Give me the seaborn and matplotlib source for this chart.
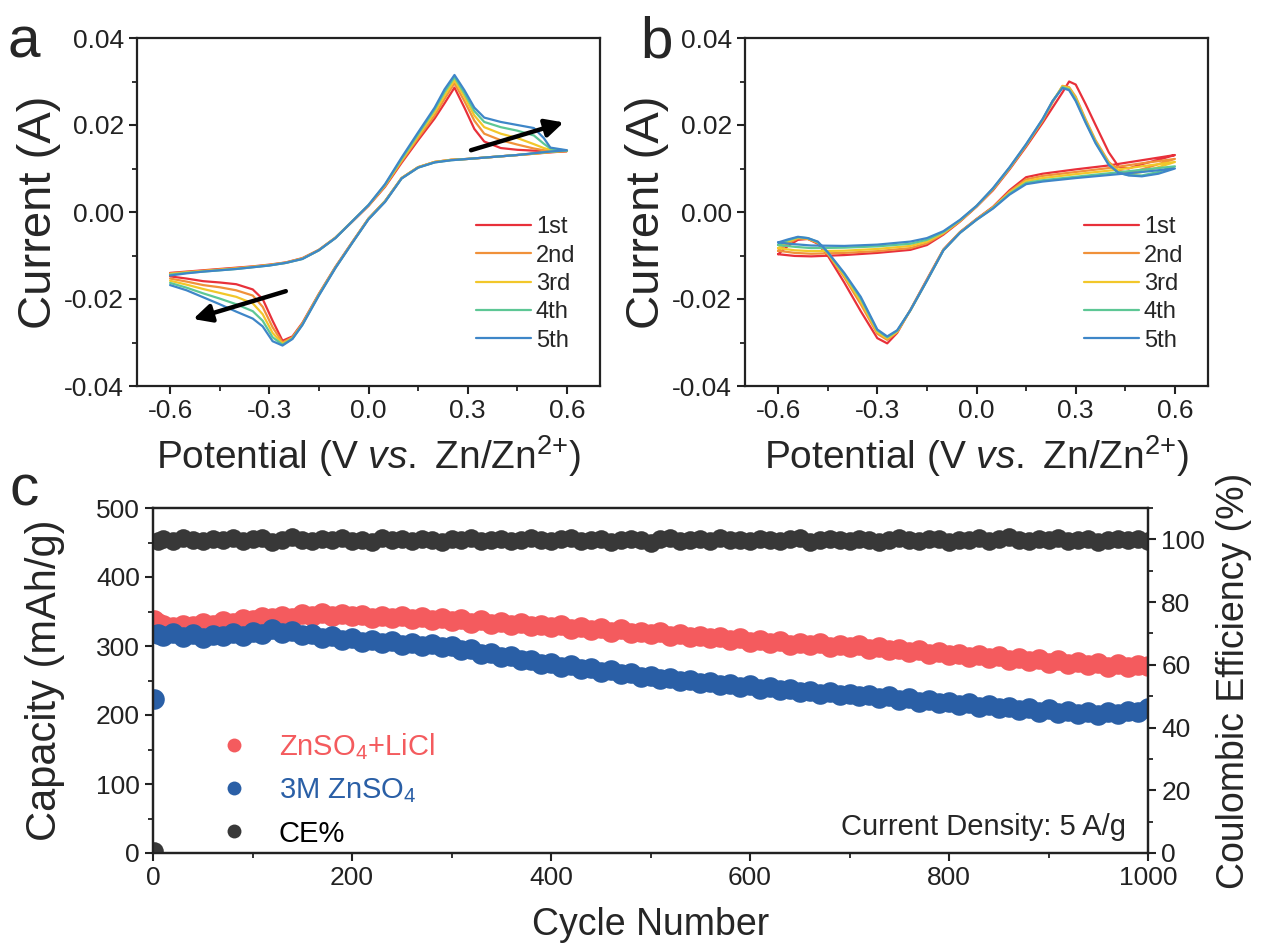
import matplotlib
matplotlib.use('Agg')
import matplotlib.pyplot as plt
from matplotlib.ticker import MultipleLocator, FormatStrFormatter
from matplotlib.lines import Line2D
import seaborn as sns
import pandas as pd

# ---------------- panel a: CV, 5 cycles ----------------
CYCLE_NAMES = ['1st', '2nd', '3rd', '4th', '5th']
CV_COLORS = ['#E8303A', '#F0913A', '#F2C72A', '#5DC795', '#3E86C8']

A_V_FWD = [-0.60, -0.55, -0.50, -0.45, -0.40, -0.35, -0.30, -0.25, -0.20, -0.15, -0.10, -0.05, 0.00,
           0.05, 0.10, 0.15, 0.20, 0.23, 0.26, 0.29, 0.32, 0.35, 0.40, 0.45, 0.50, 0.53, 0.55, 0.60]
A_V_REV = [0.55, 0.50, 0.45, 0.40, 0.35, 0.30, 0.25, 0.20, 0.15, 0.10, 0.05, 0.00, -0.05, -0.10,
           -0.15, -0.20, -0.23, -0.26, -0.29, -0.32, -0.35, -0.40, -0.45, -0.50, -0.55, -0.60]

A_FWD_1 = [-0.0140, -0.0137, -0.0134, -0.0131, -0.0128, -0.0125, -0.0121, -0.0116, -0.0106, -0.0087, -0.0059, -0.0023, 0.0014,
           0.0058, 0.0113, 0.0165, 0.0215, 0.0250, 0.0286, 0.0240, 0.0191, 0.0162, 0.0147, 0.0143, 0.0141, 0.0140, 0.0140, 0.0140]
A_FWD_2 = [-0.0141, -0.0138, -0.0135, -0.0132, -0.0129, -0.0126, -0.0122, -0.0116, -0.0107, -0.0087, -0.0059, -0.0022, 0.0015,
           0.0060, 0.0116, 0.0170, 0.0222, 0.0260, 0.0296, 0.0255, 0.0210, 0.0180, 0.0165, 0.0155, 0.0146, 0.0142, 0.0141, 0.0140]
A_FWD_3 = [-0.0143, -0.0139, -0.0136, -0.0133, -0.0130, -0.0126, -0.0122, -0.0117, -0.0107, -0.0088, -0.0059, -0.0022, 0.0015,
           0.0061, 0.0119, 0.0175, 0.0230, 0.0268, 0.0303, 0.0265, 0.0222, 0.0195, 0.0180, 0.0170, 0.0156, 0.0147, 0.0143, 0.0141]
A_FWD_4 = [-0.0144, -0.0140, -0.0137, -0.0134, -0.0131, -0.0127, -0.0123, -0.0117, -0.0108, -0.0088, -0.0060, -0.0022, 0.0016,
           0.0063, 0.0122, 0.0179, 0.0236, 0.0276, 0.0310, 0.0273, 0.0232, 0.0207, 0.0195, 0.0187, 0.0176, 0.0157, 0.0146, 0.0141]
A_FWD_5 = [-0.0146, -0.0141, -0.0137, -0.0134, -0.0131, -0.0127, -0.0123, -0.0117, -0.0108, -0.0088, -0.0060, -0.0022, 0.0016,
           0.0064, 0.0125, 0.0183, 0.0240, 0.0282, 0.0315, 0.0280, 0.0240, 0.0217, 0.0207, 0.0200, 0.0193, 0.0170, 0.0148, 0.0142]

A_REV_1 = [0.0137, 0.0134, 0.0131, 0.0128, 0.0125, 0.0122, 0.0120, 0.0115, 0.0103, 0.0078, 0.0025, -0.0015, -0.0070,
           -0.0126, -0.0188, -0.0255, -0.0286, -0.0296, -0.0250, -0.0200, -0.0178, -0.0166, -0.0162, -0.0159, -0.0153, -0.0148]
A_REV_2 = [0.0138, 0.0134, 0.0131, 0.0128, 0.0125, 0.0122, 0.0120, 0.0115, 0.0103, 0.0078, 0.0025, -0.0015, -0.0071,
           -0.0127, -0.0189, -0.0257, -0.0288, -0.0300, -0.0265, -0.0218, -0.0192, -0.0180, -0.0173, -0.0168, -0.0160, -0.0153]
A_REV_3 = [0.0138, 0.0134, 0.0131, 0.0128, 0.0125, 0.0122, 0.0120, 0.0115, 0.0103, 0.0078, 0.0024, -0.0016, -0.0071,
           -0.0128, -0.0190, -0.0258, -0.0290, -0.0303, -0.0278, -0.0235, -0.0210, -0.0195, -0.0186, -0.0177, -0.0167, -0.0158]
A_REV_4 = [0.0139, 0.0135, 0.0131, 0.0128, 0.0125, 0.0122, 0.0119, 0.0114, 0.0102, 0.0077, 0.0024, -0.0016, -0.0072,
           -0.0128, -0.0191, -0.0259, -0.0291, -0.0305, -0.0288, -0.0250, -0.0228, -0.0212, -0.0199, -0.0187, -0.0174, -0.0163]
A_REV_5 = [0.0139, 0.0135, 0.0131, 0.0128, 0.0125, 0.0122, 0.0119, 0.0114, 0.0102, 0.0077, 0.0023, -0.0017, -0.0072,
           -0.0129, -0.0192, -0.0260, -0.0292, -0.0307, -0.0297, -0.0263, -0.0245, -0.0229, -0.0212, -0.0196, -0.0180, -0.0168]

# arrows in panel a: (tail, head) in data units
A_ARROW_UP = [(0.31, 0.0142), (0.59, 0.0206)]
A_ARROW_DOWN = [(-0.25, -0.0182), (-0.53, -0.0246)]

# ---------------- panel b: CV, 5 cycles ----------------
B_V_FWD = [-0.60, -0.55, -0.50, -0.40, -0.30, -0.20, -0.15, -0.10, -0.05, 0.00, 0.05, 0.10, 0.15,
           0.20, 0.23, 0.26, 0.28, 0.30, 0.33, 0.36, 0.40, 0.43, 0.46, 0.50, 0.55, 0.60]
B_V_REV = [0.50, 0.40, 0.30, 0.20, 0.15, 0.10, 0.05, 0.00, -0.05, -0.10, -0.15, -0.20, -0.24,
           -0.27, -0.30, -0.35, -0.40, -0.45, -0.48, -0.51, -0.54, -0.57, -0.60]

B_FWD_1 = [-0.0097, -0.0101, -0.0102, -0.0099, -0.0094, -0.0087, -0.0076, -0.0052, -0.0022, 0.0012, 0.0050, 0.0098, 0.0150,
           0.0205, 0.0240, 0.0275, 0.0300, 0.0293, 0.0248, 0.0200, 0.0137, 0.0104, 0.0100, 0.0110, 0.0120, 0.0131]
B_FWD_2 = [-0.0089, -0.0094, -0.0096, -0.0094, -0.0090, -0.0083, -0.0072, -0.0050, -0.0021, 0.0013, 0.0052, 0.0100, 0.0153,
           0.0210, 0.0252, 0.0290, 0.0287, 0.0265, 0.0213, 0.0165, 0.0115, 0.0095, 0.0090, 0.0098, 0.0110, 0.0122]
B_FWD_3 = [-0.0083, -0.0088, -0.0090, -0.0089, -0.0085, -0.0078, -0.0068, -0.0048, -0.0020, 0.0013, 0.0053, 0.0101, 0.0154,
           0.0212, 0.0254, 0.0289, 0.0285, 0.0262, 0.0210, 0.0162, 0.0112, 0.0092, 0.0087, 0.0092, 0.0103, 0.0115]
B_FWD_4 = [-0.0076, -0.0080, -0.0083, -0.0082, -0.0079, -0.0073, -0.0064, -0.0046, -0.0019, 0.0014, 0.0054, 0.0102, 0.0155,
           0.0213, 0.0255, 0.0287, 0.0282, 0.0258, 0.0207, 0.0160, 0.0110, 0.0090, 0.0085, 0.0084, 0.0092, 0.0105]
B_FWD_5 = [-0.0070, -0.0074, -0.0077, -0.0078, -0.0075, -0.0068, -0.0060, -0.0044, -0.0018, 0.0014, 0.0055, 0.0103, 0.0156,
           0.0214, 0.0255, 0.0285, 0.0280, 0.0255, 0.0205, 0.0158, 0.0108, 0.0090, 0.0084, 0.0082, 0.0088, 0.0100]

B_REV_1 = [0.0119, 0.0107, 0.0098, 0.0088, 0.0080, 0.0050, 0.0012, -0.0016, -0.0046, -0.0086, -0.0155, -0.0225,
           -0.0278, -0.0302, -0.0290, -0.0228, -0.0162, -0.0100, -0.0073, -0.0062, -0.0064, -0.0078, -0.0097]
B_REV_2 = [0.0112, 0.0101, 0.0092, 0.0083, 0.0075, 0.0047, 0.0011, -0.0017, -0.0047, -0.0087, -0.0157, -0.0226,
           -0.0276, -0.0294, -0.0280, -0.0212, -0.0150, -0.0096, -0.0071, -0.0062, -0.0061, -0.0072, -0.0089]
B_REV_3 = [0.0105, 0.0095, 0.0087, 0.0078, 0.0071, 0.0044, 0.0010, -0.0017, -0.0047, -0.0087, -0.0157, -0.0226,
           -0.0275, -0.0291, -0.0276, -0.0205, -0.0146, -0.0094, -0.0070, -0.0061, -0.0059, -0.0068, -0.0083]
B_REV_4 = [0.0097, 0.0089, 0.0081, 0.0073, 0.0067, 0.0042, 0.0009, -0.0018, -0.0048, -0.0088, -0.0158, -0.0226,
           -0.0273, -0.0288, -0.0272, -0.0199, -0.0142, -0.0093, -0.0069, -0.0060, -0.0058, -0.0065, -0.0076]
B_REV_5 = [0.0092, 0.0085, 0.0078, 0.0070, 0.0064, 0.0040, 0.0008, -0.0018, -0.0048, -0.0088, -0.0158, -0.0226,
           -0.0272, -0.0286, -0.0270, -0.0195, -0.0140, -0.0092, -0.0068, -0.0060, -0.0057, -0.0063, -0.0070]

# ---------------- panel c: cycling at 5 A/g ----------------
CYCLES = [1, 5] + list(range(10, 1001, 10))

CAP_LICL = [338, 333,
            330, 327, 331, 329, 333, 331, 336, 334, 339, 337,
            342, 340, 344, 341, 347, 344, 348, 343, 346, 343,
            345, 341, 344, 340, 343, 339, 342, 337, 340, 336,
            339, 334, 337, 332, 335, 330, 333, 329, 331, 327,
            330, 325, 328, 323, 326, 321, 324, 319, 321, 317,
            320, 315, 318, 313, 315, 311, 313, 308, 311, 306,
            309, 304, 307, 302, 305, 301, 304, 299, 302, 298,
            301, 296, 299, 294, 296, 291, 294, 289, 291, 287,
            289, 284, 287, 282, 285, 280, 283, 278, 281, 276,
            279, 274, 277, 272, 275, 270, 274, 269, 273, 271]

CAP_ZNSO4 = [223, 318,
             314, 319, 313, 317, 312, 316, 314, 319, 315, 320,
             318, 324, 319, 322, 316, 318, 312, 315, 309, 312,
             306, 309, 304, 307, 302, 305, 300, 303, 298, 300,
             294, 295, 289, 290, 284, 285, 279, 280, 274, 276,
             270, 272, 266, 268, 262, 265, 259, 261, 255, 257,
             252, 254, 249, 251, 246, 248, 243, 245, 240, 243,
             238, 240, 236, 238, 233, 235, 231, 234, 229, 231,
             227, 229, 224, 227, 222, 224, 219, 222, 217, 219,
             214, 217, 212, 214, 210, 212, 207, 210, 205, 208,
             203, 206, 201, 204, 200, 204, 201, 206, 204, 210]

CE = [0.5, 99.5,
      100.1, 99.6, 100.3, 99.8, 99.4, 100.2, 99.7, 100.5, 99.6, 100.0,
      100.3, 99.3, 99.9, 100.6, 99.7, 99.5, 100.1, 99.8, 100.4, 99.6,
      99.9, 99.2, 100.3, 99.7, 100.0, 99.5, 100.2, 99.8, 99.0, 100.1,
      99.7, 100.4, 99.6, 99.9, 100.2, 99.4, 99.8, 100.3, 99.7, 99.5,
      100.0, 100.5, 99.6, 99.9, 100.1, 99.3, 99.8, 100.2, 99.7, 98.9,
      100.0, 100.3, 99.6, 99.8, 100.1, 99.5, 100.4, 99.7, 99.9, 99.4,
      100.2, 99.8, 99.6, 100.0, 100.3, 99.1, 99.7, 100.1, 99.8, 99.5,
      100.2, 99.9, 99.3, 99.7, 100.4, 99.8, 99.6, 100.0, 100.2, 99.2,
      99.9, 99.7, 100.3, 99.5, 100.0, 100.6, 99.7, 99.4, 100.1, 99.8,
      100.3, 99.6, 99.9, 100.2, 99.3, 99.8, 100.1, 99.7, 100.0, 99.6]

SERIES_NAMES = [r'ZnSO$_4$+LiCl', r'3M ZnSO$_4$', 'CE%']
RED, BLUE, GREY = '#F45B5E', '#2A5FA6', '#383838'

# ---------------- style ----------------
sns.set_theme(style='ticks')
plt.rcParams['font.family'] = ['Liberation Sans', 'DejaVu Sans']
plt.rcParams['mathtext.fontset'] = 'custom'
plt.rcParams['mathtext.rm'] = 'Liberation Sans'
plt.rcParams['mathtext.it'] = 'Liberation Sans:italic'
plt.rcParams['axes.unicode_minus'] = False
plt.rcParams['axes.linewidth'] = 1.6
plt.rcParams['axes.edgecolor'] = '#222222'
for k in ['xtick', 'ytick']:
    plt.rcParams[k + '.major.width'] = 1.5
    plt.rcParams[k + '.minor.width'] = 1.3
    plt.rcParams[k + '.major.size'] = 6
    plt.rcParams[k + '.minor.size'] = 3.5
    plt.rcParams[k + '.direction'] = 'out'
    plt.rcParams[k + '.color'] = '#222222'


def cv_frame(v_fwd, v_rev, fwd_sets, rev_sets):
    rows = []
    for name, fwd, rev in zip(CYCLE_NAMES, fwd_sets, rev_sets):
        v = v_fwd + v_rev
        i = fwd + rev
        for k in range(len(v)):
            rows.append({'V': v[k], 'I': i[k], 'cycle': name, 'step': k})
    return pd.DataFrame(rows)


def draw_cv(ax, df):
    sns.lineplot(data=df, x='V', y='I', hue='cycle', hue_order=CYCLE_NAMES,
                 palette=CV_COLORS, sort=False, estimator=None, lw=1.6, ax=ax)
    ax.set_xlim(-0.7, 0.7)
    ax.set_ylim(-0.04, 0.04)
    ax.xaxis.set_major_locator(MultipleLocator(0.3))
    ax.xaxis.set_minor_locator(MultipleLocator(0.15))
    ax.yaxis.set_major_locator(MultipleLocator(0.02))
    ax.yaxis.set_minor_locator(MultipleLocator(0.01))
    ax.xaxis.set_major_formatter(FormatStrFormatter('%.1f'))
    ax.yaxis.set_major_formatter(FormatStrFormatter('%.2f'))
    ax.tick_params(labelsize=19)
    ax.set_xlabel(r'Potential (V $\it{vs.}$ Zn/Zn$^{2{+}}$)', fontsize=28, labelpad=7)
    ax.set_ylabel('Current (A)', fontsize=34, labelpad=2)
    sns.move_legend(ax, loc='upper left', bbox_to_anchor=(0.711, 0.515), frameon=False,
                    title=None, fontsize=17, handlelength=2.35, labelspacing=0.27,
                    handletextpad=0.2, borderaxespad=0)
    for s in ax.spines.values():
        s.set_visible(True)


W, H = 1261, 950
fig = plt.figure(figsize=(W / 100, H / 100), dpi=100)
ax_a = fig.add_axes([137 / W, 1 - 386 / H, 463 / W, 348 / H])
ax_b = fig.add_axes([745 / W, 1 - 386 / H, 463 / W, 348 / H])
ax_c = fig.add_axes([153 / W, 1 - 853 / H, 995 / W, 345 / H])

df_a = cv_frame(A_V_FWD, A_V_REV, [A_FWD_1, A_FWD_2, A_FWD_3, A_FWD_4, A_FWD_5],
                [A_REV_1, A_REV_2, A_REV_3, A_REV_4, A_REV_5])
df_b = cv_frame(B_V_FWD, B_V_REV, [B_FWD_1, B_FWD_2, B_FWD_3, B_FWD_4, B_FWD_5],
                [B_REV_1, B_REV_2, B_REV_3, B_REV_4, B_REV_5])
draw_cv(ax_a, df_a)
draw_cv(ax_b, df_b)

for tail, head in [A_ARROW_UP, A_ARROW_DOWN]:
    ax_a.annotate('', xy=head, xytext=tail,
                  arrowprops=dict(arrowstyle='-|>,head_length=0.9,head_width=0.45',
                                  lw=3.2, color='black', shrinkA=0, shrinkB=0))

# panel c: dense ball markers forming bands
ax_ce = ax_c.twinx()
sns.scatterplot(x=CYCLES, y=CAP_LICL, color=RED, s=220, linewidth=0, ax=ax_c)
sns.scatterplot(x=CYCLES, y=CAP_ZNSO4, color=BLUE, s=220, linewidth=0, ax=ax_c)
sns.scatterplot(x=CYCLES, y=CE, color=GREY, s=180, linewidth=0, ax=ax_ce)

ax_c.set_xlim(0, 1000)
ax_c.set_ylim(0, 500)
ax_ce.set_ylim(0, 110)
ax_c.xaxis.set_major_locator(MultipleLocator(200))
ax_c.xaxis.set_minor_locator(MultipleLocator(100))
ax_c.yaxis.set_major_locator(MultipleLocator(100))
ax_c.yaxis.set_minor_locator(MultipleLocator(50))
ax_ce.set_yticks([0, 20, 40, 60, 80, 100])
ax_ce.yaxis.set_minor_locator(MultipleLocator(10))
ax_c.tick_params(labelsize=19)
ax_ce.tick_params(labelsize=19)
ax_c.set_xlabel('Cycle Number', fontsize=27, labelpad=12)
ax_c.set_ylabel('Capacity (mAh/g)', fontsize=30, labelpad=22)
ax_ce.set_ylabel('Coulombic Efficiency (%)', fontsize=27, labelpad=8)

handles = [Line2D([], [], ls='', marker='o', markersize=10, color=c, markeredgewidth=0)
           for c in [RED, BLUE, GREY]]
ax_ce.legend(handles, SERIES_NAMES, loc='upper left', bbox_to_anchor=(0.04, 0.388),
             frameon=False, fontsize=21, labelcolor=[RED, BLUE, 'black'],
             handletextpad=0.55, labelspacing=0.5, borderaxespad=0)
ax_ce.text(0.978, 0.075, 'Current Density: 5 A/g', transform=ax_ce.transAxes,
           ha='right', va='center', fontsize=21)

fig.text(24 / W, 1 - 42 / H, 'a', fontsize=42, ha='center', va='center')
fig.text(657 / W, 1 - 42 / H, 'b', fontsize=42, ha='center', va='center')
fig.text(24 / W, 1 - 490 / H, 'c', fontsize=42, ha='center', va='center')

fig.savefig('out.png', dpi=100)
